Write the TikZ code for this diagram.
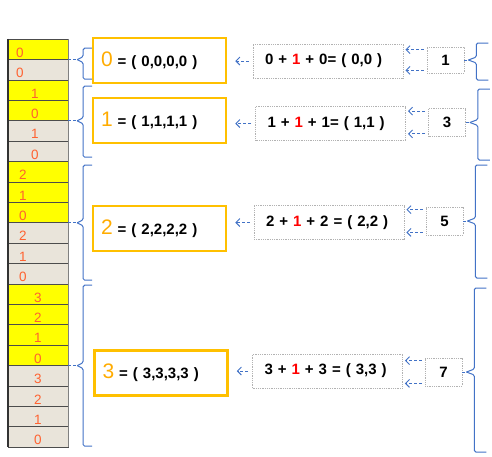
\documentclass[tikz,border=0pt]{standalone}
\usepackage{fontspec}
\setmainfont{Liberation Sans}
\usepackage{xcolor}
\usepackage{tikz}
\usetikzlibrary{arrows.meta,calc}

\definecolor{cellyel}{RGB}{255,255,0}
\definecolor{cellgray}{RGB}{233,228,218}
\definecolor{numred}{RGB}{255,98,48}
\definecolor{boxgold}{RGB}{255,192,0}
\definecolor{bigor}{RGB}{255,172,0}
\definecolor{linkblue}{RGB}{66,114,198}

\newcommand{\bigdig}[1]{{\mdseries\fontsize{21}{21}\selectfont\color{bigor}#1}}
\newcommand{\redone}{\textcolor{red}{1}}

\tikzset{
  cell/.style={draw=black!70, minimum width=60pt, minimum height=20.4pt, inner sep=0pt, text=numred, font=\fontsize{13.5}{14}\selectfont},
  valbox/.style={draw=boxgold, line width=2.5pt, fill=white, minimum width=133pt, minimum height=45pt, text width=117pt, align=left, font=\bfseries\fontsize{15}{16}\selectfont},
  sumbox/.style={draw=gray!60, densely dotted, line width=0.8pt, minimum width=150pt, minimum height=34pt, text width=126pt, align=left, font=\bfseries\fontsize{15}{16}\selectfont},
  cntbox/.style={draw=gray!60, densely dotted, line width=0.8pt, minimum width=37pt, minimum height=28pt, font=\bfseries\fontsize{15}{16}\selectfont},
  arr/.style={linkblue, densely dashed, line width=0.9pt, -{Straight Barb[length=4pt,width=8pt]}},
  lead/.style={linkblue, densely dashed, line width=0.9pt},
  brc/.style={linkblue, line width=1pt, rounded corners=1.5pt},
}

\begin{document}
\begin{tikzpicture}[x=1pt,y=-1pt]
    \useasboundingbox (0,0) rectangle (492,456);

    % Column of digits
    \foreach \v/\f/\dx [count=\i from 0] in {0/cellyel/-18, 0/cellgray/-18,
        1/cellyel/-3, 0/cellyel/-3, 1/cellgray/-3, 0/cellgray/-3,
        2/cellyel/-15, 1/cellyel/-15, 0/cellyel/-15, 2/cellgray/-15, 1/cellgray/-15, 0/cellgray/-15,
        3/cellyel/0, 2/cellyel/0, 1/cellyel/0, 0/cellyel/0, 3/cellgray/0, 2/cellgray/0, 1/cellgray/0, 0/cellgray/0}
        \node[cell, fill=\f] (c\i) at (38,49.2+20.4*\i) {\hspace*{\dx pt}\smash{\raisebox{-8pt}{\v}}\hspace*{-\dx pt}};
    \draw[black!80, line width=1.6pt] (c0.north west) -- (c19.south west);
    \draw[gray, line width=1pt] (c0.north east) -- (c19.south east);

    % Left braces
    \foreach \c/\up/\dn in {0/8.4/16.6, 3/31.6/33.4, 8/54.6/54.4, 15/77.4/77.6} {
        \coordinate (lt) at ([xshift=9pt]c\c.south east);
        \draw[lead] (c\c.south east) -- (lt);
        \draw[brc] (lt) -- ++(6,-3) -- ++(0,-\up) -- ++(9,0);
        \draw[brc] (lt) -- ++(6,3) -- ++(0,\dn) -- ++(9,0);
    }

    % Values
    \node[valbox] (o0) at (159.5,60.5) {\bigdig{0} = ( 0,0,0,0 )};
    \node[valbox] (o1) at (159.5,120.5) {\bigdig{1} = ( 1,1,1,1 )};
    \node[valbox] (o2) at (159.5,228.5) {\bigdig{2} = ( 2,2,2,2 )};
    \node[valbox] (o3) at (161,373) {\bigdig{3} = ( 3,3,3,3 )};

    % Sums
    \node[sumbox] (g0) at (328,61) {0 + \redone{} + 0= ( 0,0 )};
    \node[sumbox] (g1) at (330.5,123.5) {1 + \redone{} + 1= ( 1,1 )};
    \node[sumbox] (g2) at (329,222.5) {2 + \redone{} + 2 = ( 2,2 )};
    \node[sumbox] (g3) at (327.5,371) {3 + \redone{} + 3 = ( 3,3 )};

    % Counts
    \node[cntbox, minimum height=26pt] (s0) at (445.5,60) {1};
    \node[cntbox] (s1) at (447,122.5) {3};
    \node[cntbox] (s2) at (444.5,221) {5};
    \node[cntbox] (s3) at (443.5,372) {7};

    \foreach \k in {0,...,3} {
        \draw[arr, shorten <=4pt, shorten >=8pt] (g\k.west) -- (g\k.west -| o\k.east);
        \path ([yshift=-3pt]s\k.north west) coordinate (up\k) ([yshift=3pt]s\k.south west) coordinate (dn\k);
        \draw[arr, shorten <=3pt, shorten >=2pt] (up\k) -- (up\k -| g\k.east);
        \draw[arr, shorten <=3pt, shorten >=2pt] (dn\k) -- (dn\k -| g\k.east);
    }

    % Right braces
    \foreach \k/\up/\dn in {0/14/17, 1/30.5/34.5, 2/53/54, 3/81/77} {
        \coordinate (rt) at ([xshift=4pt]s\k.east);
        \draw[lead] (s\k.east) -- (rt);
        \draw[brc] (rt) -- ++(8,-3) -- ++(0,-\up) -- ++(12,0);
        \draw[brc] (rt) -- ++(8,3) -- ++(0,\dn) -- ++(12,0);
    }
\end{tikzpicture}
\end{document}
